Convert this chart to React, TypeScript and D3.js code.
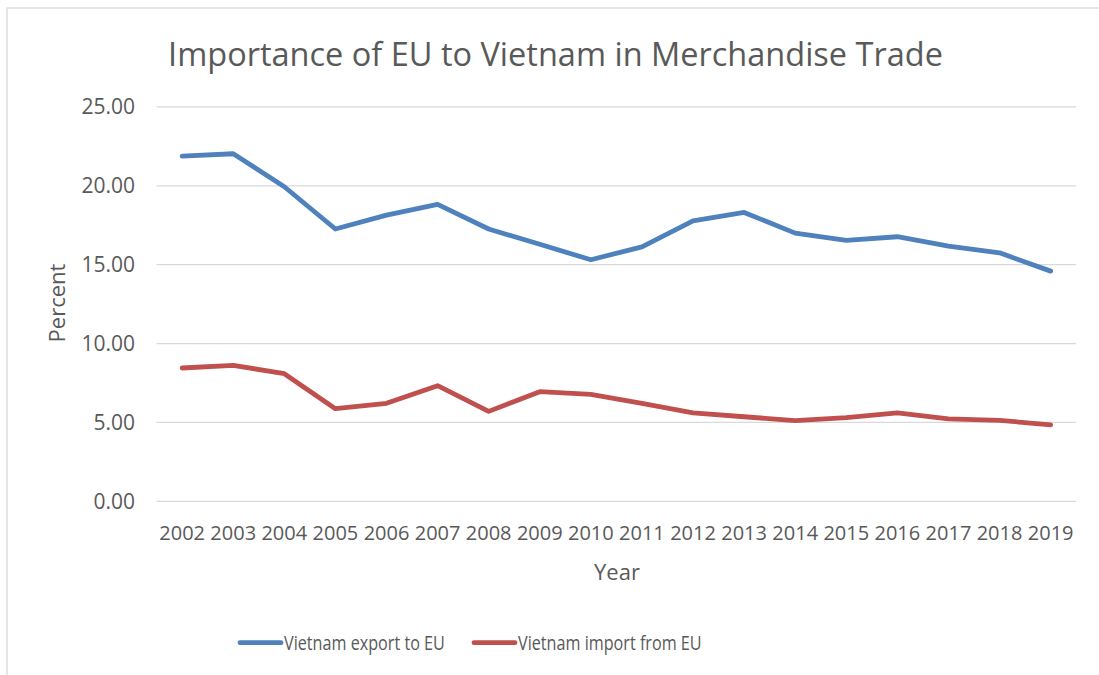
import React from "react";
import * as d3 from "d3";

const years = ["2002","2003","2004","2005","2006","2007","2008","2009","2010","2011","2012","2013","2014","2015","2016","2017","2018","2019"];
const exportToEU = [21.88,22.03,19.94,17.26,18.14,18.82,17.26,16.29,15.31,16.13,17.78,18.31,17.0,16.54,16.77,16.18,15.75,14.59];
const importFromEU = [8.45,8.62,8.09,5.87,6.21,7.33,5.70,6.95,6.78,6.21,5.60,5.36,5.11,5.30,5.61,5.23,5.13,4.85];
const yTicks = [0,5,10,15,20,25];
const seriesNames = ["Vietnam export to EU","Vietnam import from EU"];
const seriesColors = ["#4F81BD","#C0504D"];

const W = 1099, H = 675;
const FONT = "'Open Sans', sans-serif";
const TXT = "#595959";

export default function App() {
  const x = d3.scalePoint<string>().domain(years).range([156.6, 1076.2]).padding(0.5);
  const y = d3.scaleLinear().domain([0, 25]).range([501.3, 106.9]);
  const line = d3.line<number>().x((_, i) => x(years[i]) as number).y(d => y(d));
  const series = [exportToEU, importFromEU];
  const legendX = [240, 474];
  return (
    <svg width={W} height={H} style={{ position: "absolute", left: 0, top: 0, background: "#fff" }} fontFamily={FONT}>
      <rect x={7} y={8} width={1200} height={800} fill="#fff" stroke="#D9D9D9" strokeWidth={1.3} />
      <text x={555.5} y={66} textAnchor="middle" fontSize={32.5} fill={TXT}>Importance of EU to Vietnam in Merchandise Trade</text>
      {yTicks.map(t => (
        <g key={t}>
          <line x1={156.6} x2={1076.2} y1={y(t)} y2={y(t)} stroke="#D9D9D9" strokeWidth={1.3} />
          <text x={135} y={y(t)} dy="0.35em" textAnchor="end" fontSize={21} fill={TXT}>{t.toFixed(2)}</text>
        </g>
      ))}
      {years.map(yr => (
        <text key={yr} x={x(yr)} y={540} textAnchor="middle" fontSize={20} fill={TXT}>{yr}</text>
      ))}
      <text x={617} y={580} textAnchor="middle" fontSize={22} fill={TXT}>Year</text>
      <text transform={`translate(65,303) rotate(-90)`} textAnchor="middle" fontSize={22} fill={TXT}>Percent</text>
      {series.map((s, i) => (
        <path key={i} d={line(s) as string} fill="none" stroke={seriesColors[i]} strokeWidth={4.8} strokeLinejoin="round" strokeLinecap="round" />
      ))}
      {seriesNames.map((n, i) => (
        <g key={n}>
          <line x1={legendX[i]} x2={legendX[i] + 41} y1={642.7} y2={642.7} stroke={seriesColors[i]} strokeWidth={4.8} strokeLinecap="round" />
          <text transform={`translate(${legendX[i] + 44},642.7) scale(0.83,1)`} dy="0.35em" fontSize={19.5} fill={TXT}>{n}</text>
        </g>
      ))}
    </svg>
  );
}
